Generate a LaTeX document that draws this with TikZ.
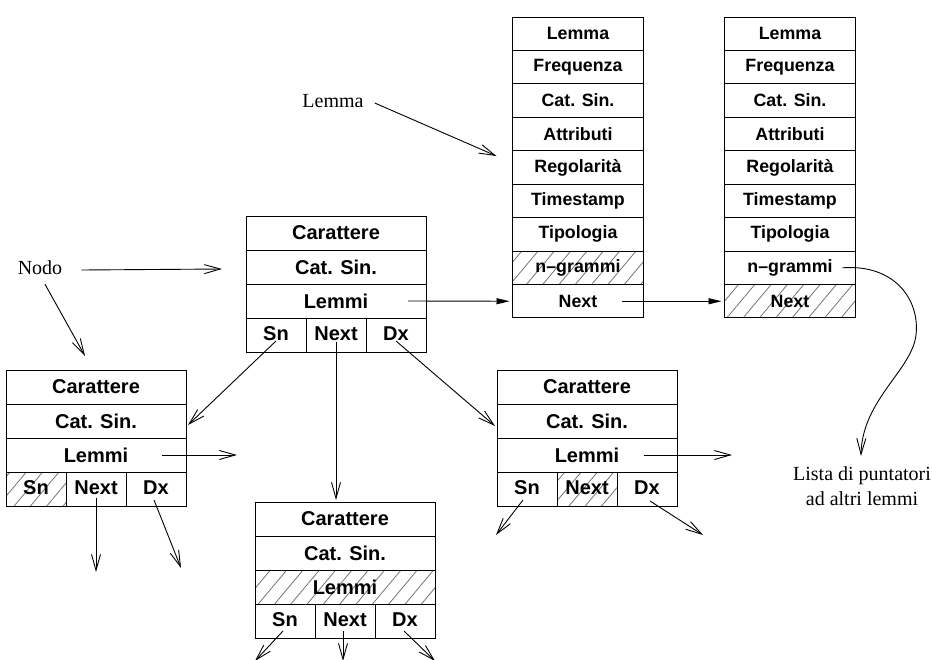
\documentclass[tikz,border=0pt]{standalone}
\usepackage{fontspec}
\setmainfont{Liberation Serif}
\setsansfont{Liberation Sans}
\usetikzlibrary{arrows.meta,patterns.meta}

\tikzset{
  cell/.style={draw, line width=1pt, inner sep=0pt, outer sep=0pt,
    minimum height=34pt, anchor=north west,
    font=\sffamily\bfseries\fontsize{20}{22}\selectfont},
  wide/.style={cell, minimum width=180pt},
  third/.style={cell, minimum width=60pt, text height=14.5pt, text depth=4pt},
  rec/.style={draw, line width=1pt, inner sep=0pt, outer sep=0pt,
    minimum height=33.44pt, minimum width=131pt, anchor=north west,
    font=\sffamily\bfseries\fontsize{17.8}{19}\selectfont},
  hatch/.style={pattern={Lines[angle=50,distance=12.5pt,line width=0.8pt]},
    pattern color=black!55},
  lab/.style={font=\fontsize{20}{25}\selectfont, inner sep=0pt},
  ptr/.style={line width=0.9pt, -{Straight Barb[length=16pt,width=9pt,line width=0.9pt]}},
  fptr/.style={line width=0.9pt, -{Triangle[length=13pt,width=6pt]}},
}

% tree node: name, x, y, style of Lemmi, Sn, Next
\newcommand\treenode[6]{%
  \node[wide] (#1-car) at (#2,#3) {Carattere};
  \node[wide] (#1-cat) at (#1-car.south west) {Cat. Sin.};
  \node[wide,#4] (#1-lem) at (#1-cat.south west) {Lemmi};
  \node[third,#5] (#1-sn) at (#1-lem.south west) {Sn};
  \node[third,#6] (#1-next) at (#1-sn.north east) {Next};
  \node[third] (#1-dx) at (#1-next.north east) {Dx};
}

% lemma record: name, x, y, style of n-grammi, Next
\newcommand\lemrec[5]{%
  \node[rec] (#1-lem) at (#2,#3) {Lemma};
  \node[rec] (#1-fre) at (#1-lem.south west) {Frequenza};
  \node[rec] (#1-cat) at (#1-fre.south west) {Cat. Sin.};
  \node[rec] (#1-att) at (#1-cat.south west) {Attributi};
  \node[rec] (#1-reg) at (#1-att.south west) {Regolarità};
  \node[rec] (#1-tim) at (#1-reg.south west) {Timestamp};
  \node[rec] (#1-tip) at (#1-tim.south west) {Tipologia};
  \node[rec,#4] (#1-ngr) at (#1-tip.south west) {n--grammi};
  \node[rec,#5] (#1-next) at (#1-ngr.south west) {Next};
}

\begin{document}
\begin{tikzpicture}[x=1pt,y=-1pt]
\useasboundingbox (0,0) rectangle (932,659);

% tree of characters
\treenode{m}{246}{216}{}{}{}
\treenode{l}{6}{370}{}{hatch}{}
\treenode{b}{255}{502}{hatch}{}{}
\treenode{r}{497}{370}{}{}{hatch}

% list of lemmas
\lemrec{ra}{512.5}{17}{hatch}{}
\lemrec{rb}{724.5}{17}{}{hatch}

% labels
\node[lab] (nodo) at (40,268) {Nodo};
\node[lab] (lemma) at (333,101) {Lemma};
\node[lab, align=center, anchor=north] (lista) at (862,466)
  {Lista di puntatori\\ad altri lemmi};

% pointers from the labels
\draw[ptr] ([shift={(19,2)}]nodo.east) -- ([shift={(-24,2)}]m-cat.west);
\draw[ptr] ([shift={(5,9)}]nodo.south) -- ([shift={(-11,-14)}]l-car.north);
\draw[ptr] ([shift={(11,2)}]lemma.east) -- ([shift={(-16,22)}]ra-att.west);

% lemma list
\draw[fptr] ([xshift=-18pt]m-lem.east) -- ([xshift=-3pt]ra-next.west);
\draw[fptr] ([xshift=-22pt]ra-next.east) -- ([xshift=-3pt]rb-next.west);
\coordinate (bend) at (916,335);
\draw[ptr] ([xshift=-13pt]rb-ngr.east) .. controls (895,264) and (920,300) ..
  (bend) .. controls (912,370) and (862,400) .. ([shift={(-1,-10)}]lista.north);

% children of the root node
\draw[ptr] ([shift={(0,6)}]m-sn.center) -- ([shift={(2,4)}]l-cat.east);
\draw[ptr] ([shift={(0,7)}]m-next.center) -- ([shift={(-9,-2)}]b-car.north);
\draw[ptr] ([shift={(0,6)}]m-dx.center) -- ([shift={(-2,5)}]r-cat.west);

% left node
\draw[ptr] ([xshift=-24pt]l-lem.east) -- ([xshift=51pt]l-lem.east);
\draw[ptr] ([shift={(0,9)}]l-next.center) -- ([shift={(0,83)}]l-next.center);
\draw[ptr] ([shift={(-2,11)}]l-dx.center) -- ([shift={(25,79)}]l-dx.center);

% bottom node
\draw[ptr] ([shift={(-2,10)}]b-sn.center) -- ([shift={(-30,40)}]b-sn.center);
\draw[ptr] ([shift={(-2,10)}]b-next.center) -- ([shift={(-2,40)}]b-next.center);
\draw[ptr] ([shift={(-1,10)}]b-dx.center) -- ([shift={(30,40)}]b-dx.center);

% right node
\draw[ptr] ([xshift=-33pt]r-lem.east) -- ([xshift=55pt]r-lem.east);
\draw[ptr] ([shift={(-4,11)}]r-sn.center) -- ([shift={(-31,46)}]r-sn.center);
\draw[ptr] ([shift={(3,12)}]r-dx.center) -- ([shift={(56,46)}]r-dx.center);
\end{tikzpicture}
\end{document}
